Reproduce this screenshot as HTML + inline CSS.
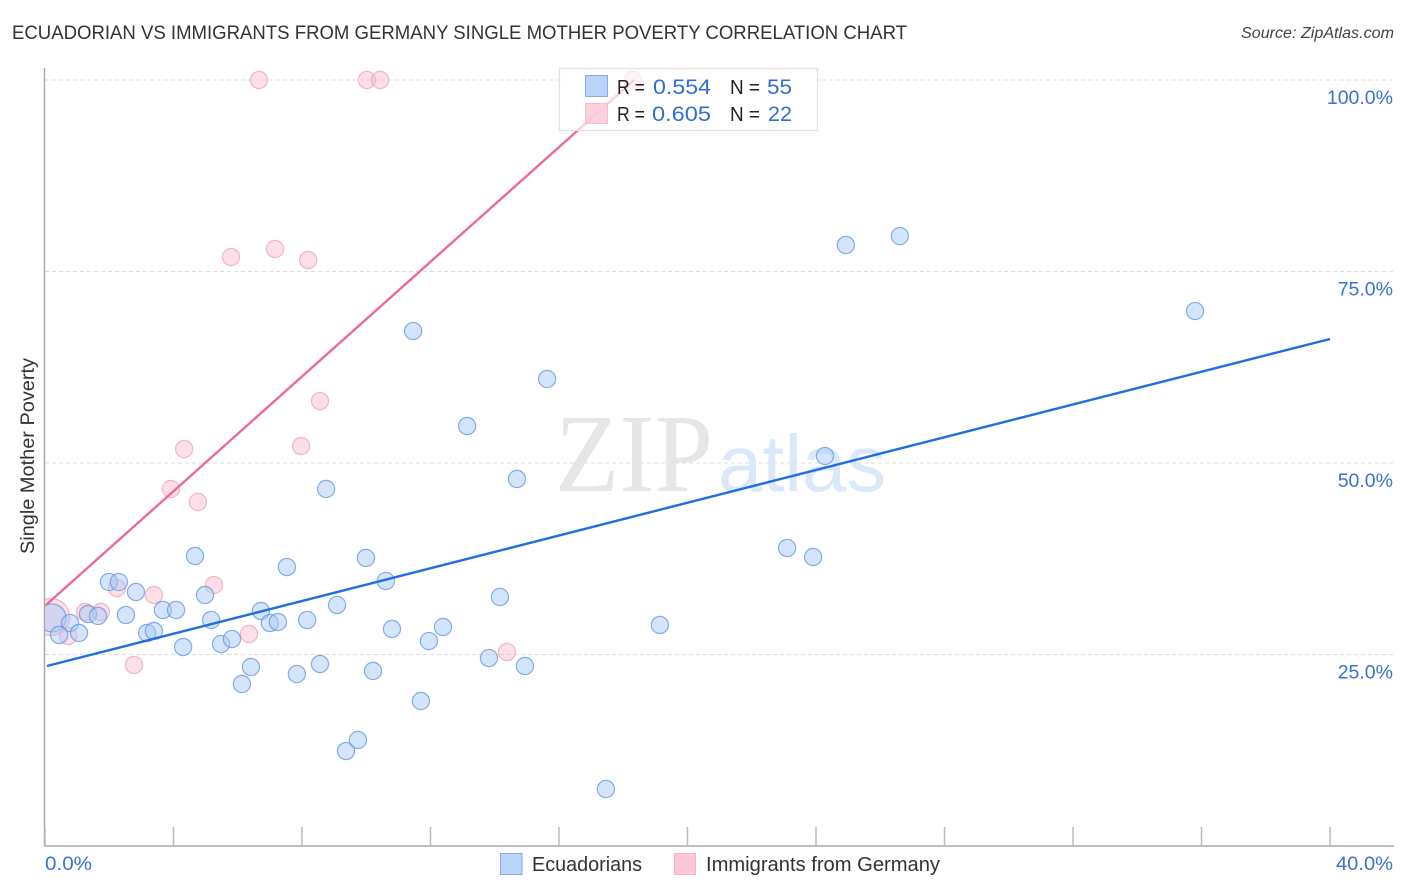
<!DOCTYPE html>
<html lang="en">
<head>
<meta charset="utf-8">
<title>Ecuadorian vs Immigrants from Germany Single Mother Poverty Correlation Chart</title>
<style>
html,body{margin:0;padding:0;background:#fff;}
svg{display:block;font-family:"Liberation Sans",sans-serif;}
</style>
</head>
<body>
<svg id="chart" width="1406" height="892" viewBox="0 0 1406 892" xmlns="http://www.w3.org/2000/svg">
  <defs>
    <clipPath id="plot-clip"><rect x="45" y="60" width="1349" height="786"/></clipPath>
  </defs>
  <text x="12" y="39" font-size="19" fill="#333" textLength="895" lengthAdjust="spacingAndGlyphs">ECUADORIAN VS IMMIGRANTS FROM GERMANY SINGLE MOTHER POVERTY CORRELATION CHART</text>
  <text x="1241" y="38" font-size="15.5" font-style="italic" fill="#444" textLength="153" lengthAdjust="spacingAndGlyphs">Source: ZipAtlas.com</text>

  <g id="grid"></g>

  <text x="555" y="491" font-family="'Liberation Serif',serif" font-size="111" fill="#e6e6e6" textLength="158" lengthAdjust="spacingAndGlyphs">ZIP</text>
  <text x="718" y="491" font-family="'Liberation Sans',Arial,sans-serif" font-size="80" fill="#dbe8fa" textLength="168" lengthAdjust="spacingAndGlyphs">atlas</text>

  <g id="axes"></g>
  <g id="marks" clip-path="url(#plot-clip)"></g>
  <g id="trends"></g>
  <g id="tick-labels"></g>

  <text transform="translate(34,456) rotate(-90)" font-size="19" fill="#333" text-anchor="middle" textLength="196" lengthAdjust="spacingAndGlyphs">Single Mother Poverty</text>

  <g>
    <rect x="559.5" y="68.5" width="258" height="62" fill="#fff" fill-opacity="0.68" stroke="#e2e2e2" stroke-width="1.2"/>
    <rect x="585.5" y="75.5" width="22" height="21" fill="#b9d4f8" stroke="#85ace6"/>
    <rect x="585.5" y="103.5" width="22" height="20" fill="#fbc8d8" fill-opacity="0.85" stroke="#f7bccd"/>
    <text x="617" y="94" font-size="20" fill="#222" textLength="28" lengthAdjust="spacingAndGlyphs">R =</text>
    <text x="653" y="94" font-size="21.5" fill="#2f6fd0" textLength="58" lengthAdjust="spacingAndGlyphs">0.554</text>
    <text x="730" y="94" font-size="20" fill="#222" textLength="30" lengthAdjust="spacingAndGlyphs">N =</text>
    <text x="767" y="94" font-size="21.5" fill="#2f6fd0" textLength="25" lengthAdjust="spacingAndGlyphs">55</text>
    <text x="617" y="121" font-size="20" fill="#222" textLength="28" lengthAdjust="spacingAndGlyphs">R =</text>
    <text x="652" y="121" font-size="21.5" fill="#2f6fd0" textLength="59" lengthAdjust="spacingAndGlyphs">0.605</text>
    <text x="730" y="121" font-size="20" fill="#222" textLength="30" lengthAdjust="spacingAndGlyphs">N =</text>
    <text x="768" y="121" font-size="21.5" fill="#2f6fd0" textLength="24" lengthAdjust="spacingAndGlyphs">22</text>
  </g>

  <g>
    <rect x="500.5" y="853.5" width="21.5" height="21" fill="#b9d4f8" stroke="#85ace6"/>
    <text x="532" y="871" font-size="20" fill="#333" textLength="110" lengthAdjust="spacingAndGlyphs">Ecuadorians</text>
    <rect x="674.5" y="853.5" width="21" height="21" fill="#fbc8d8" stroke="#f5b3c8"/>
    <text x="706" y="871" font-size="20" fill="#333" textLength="234" lengthAdjust="spacingAndGlyphs">Immigrants from Germany</text>
  </g>
</svg>
<script>
const xTickValues = [0, 4, 8, 12, 16, 20, 24, 28, 32, 36, 40];
const xTickLabels = ["0.0%", "40.0%"];
const yTickValues = [25, 50, 75, 100];
const yTickLabels = ["25.0%", "50.0%", "75.0%", "100.0%"];

const ecuadoriansX = [0.22,0.78,0.44,1.06,1.34,1.65,1.99,2.30,2.52,2.83,3.18,3.39,3.67,4.08,4.30,4.67,4.98,5.17,5.48,5.82,6.13,6.41,6.72,7.00,7.25,7.53,7.84,8.16,8.56,8.75,9.09,9.37,9.74,9.99,10.21,10.61,10.80,11.46,11.70,11.95,12.39,13.14,13.82,14.16,14.69,14.94,15.63,17.46,19.14,23.10,23.91,24.28,24.93,26.61,35.80];
const ecuadoriansY = [29.77,29.11,27.55,27.81,30.29,30.03,34.46,34.46,30.16,33.16,27.81,28.07,30.81,30.81,25.98,37.86,32.77,29.50,26.37,27.02,21.15,23.37,30.68,29.11,29.24,36.42,22.45,29.50,23.76,46.61,31.46,12.40,13.84,37.60,22.85,34.60,28.33,67.23,18.93,26.76,28.59,54.83,24.54,32.51,47.91,23.50,60.97,7.44,28.85,38.90,37.73,50.91,78.46,79.63,69.84];
const germanyX = [0.19,0.72,1.25,1.74,2.24,2.77,3.39,3.92,4.33,4.76,5.26,5.79,6.35,6.66,7.16,7.97,8.19,8.56,10.02,10.43,14.38,18.30];
const germanyY = [29.9,27.42,30.55,30.55,33.68,23.63,32.77,46.61,51.83,44.91,34.07,76.89,27.68,100,77.94,52.22,76.50,58.09,100,100,25.33,100];

const ecuadoriansTrendX = [0.06, 40];
const ecuadoriansTrendY = [23.5, 66.19];
const germanyTrendX = [0.03, 18.34];
const germanyTrendY = [31.46, 100];

const NS = "http://www.w3.org/2000/svg";
function xPos(v) { return 45 + v * (1330 - 45) / 40; }
function yPos(v) { return 846 - v * (846 - 80) / 100; }
function make(tag, attrs, parent) {
  const el = document.createElementNS(NS, tag);
  for (const k in attrs) el.setAttribute(k, attrs[k]);
  parent.appendChild(el);
  return el;
}

const grid = document.getElementById("grid");
const axes = document.getElementById("axes");
const marks = document.getElementById("marks");
const trends = document.getElementById("trends");
const labels = document.getElementById("tick-labels");

yTickValues.forEach(function (v, i) {
  const line = make("line", {x1: 45, x2: 1394, y1: yPos(v), y2: yPos(v), stroke: "#dcdcdc", "stroke-width": 1, "stroke-dasharray": "4 3"}, grid);
  
  
  const t = make("text", {x: 1393, y: yPos(v) + 24, "font-size": 19.5, fill: "#3a72d2", "text-anchor": "end"}, labels);
  
  
  t.textContent = yTickLabels[i];
});

const yAxis = make("line", {x1: 44.5, x2: 44.5, y1: 68, y2: 846, stroke: "#aaa", "stroke-width": 1.5}, axes);


const xAxis = make("line", {x1: 44, x2: 1394, y1: 846, y2: 846, stroke: "#aaa", "stroke-width": 1.5}, axes);



xTickValues.forEach(function (v) {
  const tick = make("line", {x1: xPos(v), x2: xPos(v), y1: 827, y2: 846, stroke: "#bbb", "stroke-width": 1.5}, axes);
  
  
});

const xLabelFirst = make("text", {x: 45, y: 870, "font-size": 19.5, fill: "#3a72d2", textLength: 47, lengthAdjust: "spacingAndGlyphs"}, labels);


xLabelFirst.textContent = xTickLabels[0];
const xLabelLast = make("text", {x: 1336, y: 870, "font-size": 19.5, fill: "#3a72d2", textLength: 57, lengthAdjust: "spacingAndGlyphs"}, labels);


xLabelLast.textContent = xTickLabels[1];

germanyX.forEach(function (v, i) {
  const c = make("circle", {cx: xPos(v), cy: yPos(germanyY[i]), r: i === 0 ? 18.5 : 8.6, fill: "#f7b3c8", "fill-opacity": 0.42, stroke: "#ee9cb6", "stroke-opacity": 0.7, "stroke-width": 1.2}, marks);
  
  
});
ecuadoriansX.forEach(function (v, i) {
  const c = make("circle", {cx: xPos(v), cy: yPos(ecuadoriansY[i]), r: i === 0 ? 14 : 8.6, fill: "#a9c9f5", "fill-opacity": 0.5, stroke: "#5a90dc", "stroke-opacity": 0.7, "stroke-width": 1.2}, marks);
  
  
});

const blueTrend = make("line", {x1: xPos(ecuadoriansTrendX[0]), y1: yPos(ecuadoriansTrendY[0]), x2: xPos(ecuadoriansTrendX[1]), y2: yPos(ecuadoriansTrendY[1]), stroke: "#1f6fdc", "stroke-width": 2.4}, trends);


const pinkTrend = make("line", {x1: xPos(germanyTrendX[0]), y1: yPos(germanyTrendY[0]), x2: xPos(germanyTrendX[1]), y2: yPos(germanyTrendY[1]), stroke: "#ec6a97", "stroke-width": 2.4}, trends);


</script>
</body>
</html>
